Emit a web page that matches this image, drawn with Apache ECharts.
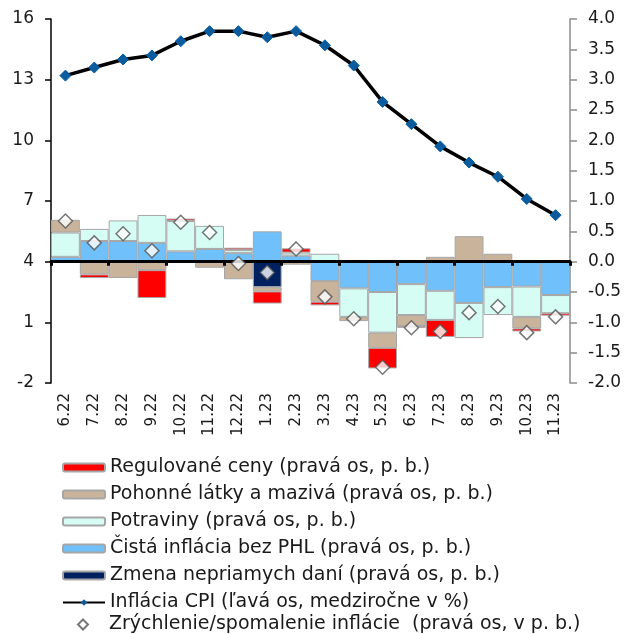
<!DOCTYPE html>
<html>
<head>
<meta charset="utf-8">
<script src="https://cdn.jsdelivr.net/npm/echarts@6/dist/echarts.min.js"></script>
<style>
html,body{margin:0;padding:0;background:#fff;}
#c{width:631px;height:634px;}
</style>
</head>
<body>
<div id="c"></div>
<script>
const categories = ['6.22','7.22','8.22','9.22','10.22','11.22','12.22','1.23','2.23','3.23','4.23','5.23','6.23','7.23','8.23','9.23','10.23','11.23'];
const regulovane = [0, -0.06, 0, -0.46, 0.04, 0, 0.04, -0.20, 0.07, -0.06, 0, -0.34, -0.03, -0.28, 0, 0, -0.05, -0.04];
const pohonne    = [0.21, -0.21, -0.27, -0.14, 0, -0.10, -0.29, -0.07, -0.05, -0.34, -0.07, -0.25, -0.18, 0.08, 0.42, 0.13, -0.19, 0];
const potraviny  = [0.40, 0.20, 0.34, 0.46, 0.50, 0.38, 0.05, 0, 0.05, 0.13, -0.47, -0.67, -0.51, -0.48, -0.58, -0.46, -0.50, -0.30];
const cista      = [0.08, 0.34, 0.34, 0.31, 0.17, 0.21, 0.14, 0.50, 0.10, -0.32, -0.44, -0.50, -0.37, -0.48, -0.68, -0.42, -0.41, -0.55];
const dane       = [0, 0, 0, 0, 0, 0, 0, -0.42, 0, 0, 0, 0, 0, 0, 0, 0, 0, 0];
const inflaciaCPI = [13.2, 13.6, 14.0, 14.2, 14.9, 15.4, 15.4, 15.1, 15.4, 14.7, 13.7, 11.9, 10.8, 9.7, 8.9, 8.2, 7.1, 6.3];
const zrychlenie = [0.67, 0.31, 0.46, 0.18, 0.65, 0.48, -0.03, -0.18, 0.21, -0.58, -0.94, -1.74, -1.09, -1.15, -0.84, -0.74, -1.17, -0.91];
const leftTicks = {min: -2, max: 16, interval: 3};
const rightTicks = {min: -2, max: 4, interval: 0.5};

const FONT = 'DejaVu Sans';
const TXT = '#1a1a1a';
const nz = a => a.map(v => v === 0 ? '-' : v);

const N_REG = 'Regulované ceny (pravá os, p. b.)';
const N_POH = 'Pohonné látky a mazivá (pravá os, p. b.)';
const N_POT = 'Potraviny (pravá os, p. b.)';
const N_CIS = 'Čistá inflácia bez PHL (pravá os, p. b.)';
const N_DAN = 'Zmena nepriamych daní (pravá os, p. b.)';
const N_CPI = 'Inflácia CPI (ľavá os, medziročne v %)';
const N_ZRY = 'Zrýchlenie/spomalenie inflácie  (pravá os, v p. b.)';

const barBase = {
  type: 'bar', stack: 'contrib', yAxisIndex: 1, xAxisIndex: 0,
  barWidth: '100%', barCategoryGap: 0,
  emphasis: {disabled: true}
};
const barStyle = c => ({color: c, borderColor: '#a6a6a6', borderWidth: 1});

const legendText = {fontFamily: FONT, fontSize: 19, color: TXT, lineHeight: 18};

const chart = echarts.init(document.getElementById('c'), null, {renderer: 'canvas'});
chart.setOption({
  animation: false,
  textStyle: {fontFamily: FONT},
  grid: {left: 51, right: 61, top: 19, bottom: 251, containLabel: false},
  legend: [
    {
      orient: 'vertical', left: 62, top: 458, padding: 0,
      itemWidth: 42, itemHeight: 8, itemGap: 8,
      textStyle: legendText,
      data: [N_REG, N_POH, N_POT, N_CIS, N_DAN, N_CPI]
    },
    {
      orient: 'vertical', left: 77, top: 615, padding: 0,
      itemWidth: 10, itemHeight: 10, itemGap: 8,
      textStyle: Object.assign({}, legendText, {padding: [0, 0, 0, 16]}),
      data: [N_ZRY]
    }
  ],
  xAxis: [
    {
      type: 'category', data: categories, position: 'bottom',
      axisLine: {show: false, onZero: false}, axisTick: {show: false},
      axisLabel: {rotate: 90, fontSize: 15, color: TXT, margin: 10, fontFamily: FONT, interval: 0}
    },
    {
      type: 'category', data: categories, position: 'bottom', z: 10,
      axisLine: {show: true, onZero: true, onZeroAxisIndex: 1, lineStyle: {color: '#000', width: 3}},
      axisTick: {show: true, length: 4, lineStyle: {color: '#000', width: 3}},
      axisLabel: {show: false}
    }
  ],
  yAxis: [
    {
      type: 'value', position: 'left', min: leftTicks.min, max: leftTicks.max, interval: leftTicks.interval,
      splitLine: {show: false},
      axisLine: {show: true, lineStyle: {color: '#000', width: 1.5}},
      axisTick: {show: true, length: 6, lineStyle: {color: '#000', width: 1.5}},
      axisLabel: {fontSize: 17, color: TXT, margin: 17, fontFamily: FONT}
    },
    {
      type: 'value', position: 'right', min: rightTicks.min, max: rightTicks.max, interval: rightTicks.interval,
      splitLine: {show: false},
      axisLine: {show: true, lineStyle: {color: '#8c8c8c', width: 1.5}},
      axisTick: {show: true, length: 7, lineStyle: {color: '#8c8c8c', width: 1.5}},
      axisLabel: {fontSize: 17, color: TXT, margin: 18, fontFamily: FONT, formatter: v => v.toFixed(1)}
    }
  ],
  series: [
    Object.assign({}, barBase, {name: N_DAN, data: nz(dane), itemStyle: barStyle('#002060')}),
    Object.assign({}, barBase, {name: N_CIS, data: nz(cista), itemStyle: barStyle('#6fc0fb')}),
    Object.assign({}, barBase, {name: N_POT, data: nz(potraviny), itemStyle: barStyle('#d5fdf4')}),
    Object.assign({}, barBase, {name: N_POH, data: nz(pohonne), itemStyle: barStyle('#c9b49b')}),
    Object.assign({}, barBase, {name: N_REG, data: nz(regulovane), itemStyle: barStyle('#ff0000')}),
    {
      name: N_CPI, type: 'line', yAxisIndex: 0, xAxisIndex: 0, z: 15,
      data: inflaciaCPI, symbol: 'diamond', symbolSize: 11, showAllSymbol: true,
      lineStyle: {color: '#000', width: 3.5},
      itemStyle: {color: '#0a5c9e', borderColor: '#0a5c9e'},
      emphasis: {disabled: true}
    },
    {
      name: N_ZRY, type: 'scatter', yAxisIndex: 1, xAxisIndex: 0, z: 20,
      data: zrychlenie, symbol: 'diamond', symbolSize: 14,
      itemStyle: {color: '#ffffff', borderColor: '#555555', borderWidth: 1.5},
      emphasis: {disabled: true}
    }
  ]
});
</script>
</body>
</html>
